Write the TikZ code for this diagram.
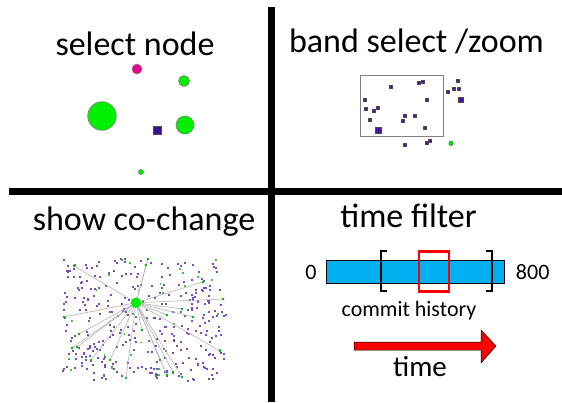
\documentclass[tikz,border=0pt]{standalone}
\usepackage{fontspec}
\setmainfont{Carlito}
\usetikzlibrary{arrows.meta}

\definecolor{nodegreen}{RGB}{0,240,0}
\definecolor{nodepurple}{RGB}{70,20,170}
\definecolor{barblue}{RGB}{0,176,240}

\tikzset{
  title/.style={font=\fontsize{34}{40}\selectfont, anchor=base, inner sep=0pt},
  small/.style={font=\fontsize{22}{26}\selectfont, anchor=base, inner sep=0pt},
  gnode/.style={fill=nodegreen, draw=gray, line width=0.6pt},
  pnode/.style={fill=nodepurple, draw=black!70, line width=0.4pt},
}

\begin{document}
\begin{tikzpicture}[x=1pt, y=-1pt]
                \useasboundingbox (0,0) rectangle (562,402);

                % dividing cross
                \draw[line width=7.5pt] (271.7,7) -- (271.7,402);
                \draw[line width=7pt] (9,191.5) -- (562,191.5);

                % select node
                \node[title] (tsel) at (135,55) {select node};
                \fill[fill=magenta, draw=gray, line width=0.6pt] (137,69) circle (5);
                \draw[gnode] (184,81) circle (5.5);
                \draw[gnode] (102,116) circle (14.3);
                \draw[gnode] (185,125) circle (9);
                \draw[gnode] (141,172) circle (2.6);
                \draw[pnode, fill=nodepurple!85!black] (153,126) rectangle (161,134);

                % band select / zoom
                \node[title] (tband) at (416.5,52.5) {band select /zoom};
                \draw[gray, line width=0.8pt] (360.3,75) rectangle (443.3,136);
                \foreach \x/\y in {391/87, 418.7/83, 423/81.7, 364.3/100, 426.7/100, 365.7/108.7,
                                   373.3/111, 377.7/108, 369.3/119.7, 404.3/115.3, 403/120.3,
                                   414.3/116, 424.3/127.7, 447.3/92, 453.7/88.3, 458.7/89,
                                   458/81, 404.3/144.7, 426.7/143, 430/141}
                  \draw[pnode] (\x-1.6,\y-1.6) rectangle (\x+1.6,\y+1.6);
                \draw[pnode] (375.3,127.3) rectangle (380.7,132.7);
                \draw[pnode] (457.7,96.7) rectangle (463,102);
                \draw[fill=nodegreen, draw=black!60!green] (451,143.3) circle (2.2);

                % show co-change
                \node[title] (tshow) at (144,230.5) {show co-change};
                \pgfmathsetseed{4711}
                \foreach \i in {1,...,330}
                  \fill[nodepurple!75] ({62+163*rnd},{258+122*rnd}) rectangle +(2,2);
                \foreach \i in {1,...,28}
                  \fill[green!75!black!80] ({62+163*rnd},{258+122*rnd}) rectangle +(1.8,1.8);
                \coordinate (hub) at (136,302.7);
                \foreach \x/\y [count=\k] in {74/266, 64/317, 79/334, 72/348, 91/360, 77/347,
                                              126/378, 167/375, 182/377, 220/351, 193/317,
                                              167/315, 182/309, 223/299, 203/282, 148/259,
                                              146/265, 160/360, 173/372, 142/330, 110/360}
                {
                  \coordinate (e\k) at (\x,\y);
                  \draw[gray!60, line width=0.6pt] (hub) -- (e\k);
                  \fill[green!70!black] (e\k) circle (1.3);
                }
                \fill[nodegreen] (hub) circle (5.2);

                % time filter
                \node[title] (ttime) at (408.5,227.5) {time filter};
                \draw[fill=barblue, line width=0.8pt] (326,260) rectangle (504.3,283.3);
                \node[small] (lo) at (311,279.3) {0};
                \node[small] (hi) at (532.7,279.3) {800};
                \draw[line width=2.8pt] (387,251) -- (381,251) -- (381,291) -- (387,291);
                \draw[line width=2.8pt] (486,251) -- (492,251) -- (492,291) -- (486,291);
                \draw[red, line width=2.6pt] (419,251.5) rectangle (449,291.5);
                \node[small] (hist) at (409,316) {commit history};
                \draw[fill=red, line width=0.5pt] (354,342) -- (481,342) -- (481,330) -- (496,346)
                  -- (481,363) -- (481,350) -- (354,350) -- cycle;
                \node[title, font=\fontsize{29}{34}\selectfont] (tarrow) at (420,376) {time};
            \end{tikzpicture}
\end{document}
